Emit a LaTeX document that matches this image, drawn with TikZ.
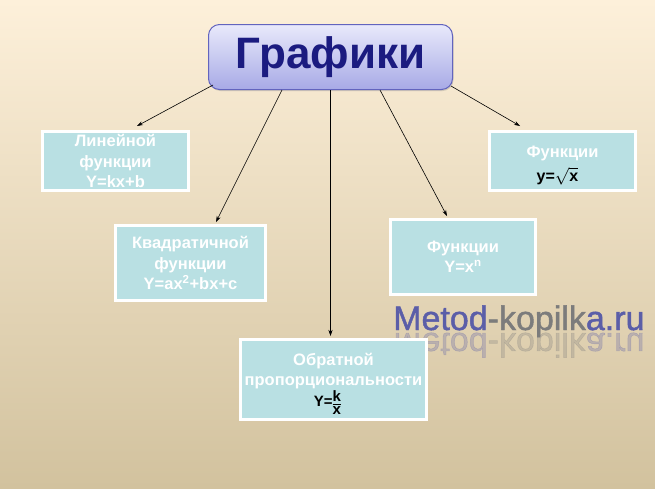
\documentclass[tikz,border=0pt]{standalone}
\usepackage{fontspec}
\setmainfont{Liberation Sans}
\newfontfamily\wmfont[FakeBold=1.3]{Liberation Sans}
\usetikzlibrary{arrows.meta,shadows,calc}
\definecolor{bgtop}{HTML}{FDF0DA}
\definecolor{bgmid}{HTML}{F2E8CE}
\definecolor{bgbot}{HTML}{D2C29E}
\definecolor{boxfill}{HTML}{B9E0E3}
\definecolor{ttop}{HTML}{E9EAFB}
\definecolor{tbot}{HTML}{A7A9E6}
\definecolor{tborder}{HTML}{6264BE}
\definecolor{ttext}{HTML}{1B1B80}
\definecolor{wmblue}{HTML}{5B5EA8}
\definecolor{wmgray}{HTML}{7C7C7C}
\tikzset{
  infobox/.style={draw=white, line width=3pt, fill=boxfill, align=center,
    text=white, font=\fontsize{16.5}{20.5}\selectfont\bfseries, inner sep=0pt,
    drop shadow={opacity=0.35, shadow xshift=1pt, shadow yshift=-1.5pt}},
  boxtext/.style={align=center, inner sep=0pt, text=white, anchor=base,
    font=\fontsize{16.5}{20.5}\selectfont\bfseries},
  formula/.style={inner sep=0pt, anchor=base, text=black},
  conn/.style={black, line width=0.6pt, -{Stealth[length=6pt,width=4pt]}},
  wm/.style={font=\fontsize{34}{34}\wmfont, inner sep=0pt, anchor=base west}
}
\begin{document}
\begin{tikzpicture}[x=1pt,y=-1pt]
\shade[top color=bgtop, middle color=bgmid, bottom color=bgbot] (0,0) rectangle (655,488);
\useasboundingbox (0,0) rectangle (655,488);

% watermark
\node[wm] (wm) at (393,330) {\textcolor{wmblue}{Metod}\textcolor{wmgray}{-kopilk}\textcolor{wmblue}{a.ru}};
\node[wm, yscale=-1, transform shape, opacity=0.28] (wmr) at (393,333) {\textcolor{wmblue}{Metod}\textcolor{wmgray}{-kopilk}\textcolor{wmblue}{a.ru}};

% title
\node[draw=tborder, line width=1pt, rounded corners=11pt, top color=ttop, bottom color=tbot,
  minimum width=244pt, minimum height=65pt, inner sep=0pt,
  drop shadow={opacity=0.3, shadow xshift=1pt, shadow yshift=-1.5pt},
  font=\fontsize{44}{44}\selectfont\bfseries, text=ttext] (title) at (330.5,57) {Графики};

% boxes
\node[infobox, minimum width=146pt, minimum height=59pt] (b1) at (115.5,161)
  {Линейной\\функции\\Y=kx+b};
\node[infobox, minimum width=150pt, minimum height=75pt] (b2) at (190.5,263)
  {Квадратичной\\функции\\Y=ax\textsuperscript{2}+bx+c};
\node[infobox, minimum width=186pt, minimum height=80pt] (b3) at (333.5,379.5) {};
\node[boxtext] (b3t) at ([yshift=-47.5pt]b3.north) {Обратной\\пропорциональности};
\node[formula, font=\fontsize{15}{15}\selectfont\bfseries] (b3f)
  at ([xshift=-6pt,yshift=-68.5pt]b3.north)
  {Y=\raisebox{5pt}{\setlength{\tabcolsep}{0pt}\begin{tabular}[t]{c}k\\[-2pt]\hline\rule{0pt}{10pt}x\end{tabular}}};
\node[infobox, minimum width=145pt, minimum height=75pt] (b4) at (463,257)
  {Функции\\Y=x\textsuperscript{n}};
\node[infobox, minimum width=146pt, minimum height=59pt] (b5) at (562.5,161) {};
\node[boxtext] (b5t) at ([yshift=-27pt]b5.north) {Функции};
\node[formula, font=\fontsize{16}{16}\selectfont\bfseries]
  (b5f) at ([xshift=-5pt,yshift=-51pt]b5.north) {y=$\sqrt{\textbf{x}}$};

% connectors
\draw[conn] ([xshift=5pt,yshift=5pt]title.south west) -- ([xshift=21.5pt,yshift=4pt]b1.north);
\draw[conn] ([xshift=-48.5pt]title.south) -- ([xshift=25.5pt,yshift=2pt]b2.north);
\draw[conn] (title.south) -- ([yshift=2pt]title.south |- b3.north);
\draw[conn] ([xshift=49.5pt]title.south) -- ([xshift=-16pt,yshift=2pt]b4.north);
\draw[conn] ([xshift=-2pt,yshift=4pt]title.south east) -- ([xshift=-42.5pt,yshift=4pt]b5.north);
\end{tikzpicture}
\end{document}
